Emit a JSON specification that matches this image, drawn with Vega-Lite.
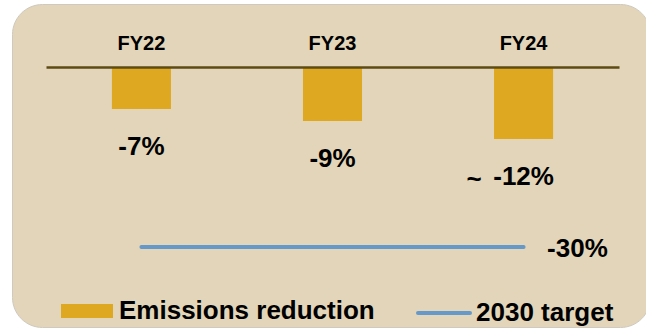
{
  "$schema": "https://vega.github.io/schema/vega-lite/v6.json",
  "width": 638,
  "height": 323,
  "autosize": {"type": "none"},
  "padding": {"left": 12, "top": 4, "right": -4, "bottom": 4},
  "background": "#ffffff",
  "config": {
    "font": "Liberation Sans",
    "locale": {
      "number": {"decimal": ".", "thousands": ",", "grouping": [3], "currency": ["$", ""], "minus": "-"}
    },
    "view": {"fill": "#e2d5b9", "stroke": "#cfc9bf", "strokeWidth": 1, "cornerRadius": 30}
  },
  "data": {
    "values": [
      {"year": "FY22", "reduction": -0.07, "target": -0.30, "qualifier": ""},
      {"year": "FY23", "reduction": -0.09, "target": -0.30, "qualifier": ""},
      {"year": "FY24", "reduction": -0.12, "target": -0.30, "qualifier": "~"}
    ]
  },
  "encoding": {
    "x": {
      "field": "year",
      "type": "nominal",
      "sort": null,
      "scale": {"range": [34, 607], "paddingInner": 0.691, "paddingOuter": 0.345},
      "axis": {
        "orient": "top",
        "title": null,
        "ticks": false,
        "grid": false,
        "labelAngle": 0,
        "labelFont": "Liberation Sans",
        "labelFontWeight": "bold",
        "labelFontSize": 20,
        "labelColor": "#000000",
        "labelBaseline": "alphabetic",
        "labelPadding": 17.5,
        "domainColor": "#5e4b14",
        "domainWidth": 2.5,
        "offset": -63,
        "zindex": 1
      }
    }
  },
  "layer": [
    {
      "mark": {"type": "bar"},
      "encoding": {
        "y": {
          "field": "reduction",
          "type": "quantitative",
          "scale": {"domain": [-0.3, 0], "range": [243, 63], "nice": false},
          "axis": null
        },
        "fill": {
          "datum": "Emissions reduction",
          "type": "nominal",
          "scale": {"range": ["#dea920"]},
          "legend": {
            "orient": "none",
            "legendX": 49,
            "legendY": 281,
            "title": null,
            "padding": 0,
            "symbolType": "M-1,-0.27H1V0.27H-1Z",
            "symbolSize": 2704,
            "symbolStrokeWidth": 0,
            "symbolOpacity": 1,
            "labelFont": "Liberation Sans",
            "labelFontSize": 26,
            "labelFontWeight": "bold",
            "labelColor": "#000000",
            "labelOffset": 6,
            "labelLimit": 400
          }
        }
      }
    },
    {
      "mark": {"type": "text", "font": "Liberation Sans", "fontSize": 26, "fontWeight": "bold", "color": "#000000", "baseline": "alphabetic", "dy": 46},
      "encoding": {
        "y": {"field": "reduction", "type": "quantitative"},
        "text": {"field": "reduction", "type": "quantitative", "format": ".0%"}
      }
    },
    {
      "mark": {"type": "text", "font": "Liberation Sans", "fontSize": 26, "fontWeight": "bold", "color": "#000000", "baseline": "alphabetic", "align": "right", "dx": -42, "dy": 49},
      "encoding": {
        "y": {"field": "reduction", "type": "quantitative"},
        "text": {"field": "qualifier", "type": "nominal"}
      }
    },
    {
      "mark": {"type": "line", "strokeWidth": 4, "strokeCap": "round"},
      "encoding": {
        "y": {"field": "target", "type": "quantitative"},
        "stroke": {
          "datum": "2030 target",
          "type": "nominal",
          "scale": {"range": ["#6699c9"]},
          "legend": {
            "orient": "none",
            "legendX": 404,
            "legendY": 281,
            "title": null,
            "padding": 0,
            "symbolType": "M-1,0H1",
            "symbolSize": 2704,
            "symbolStrokeWidth": 4,
            "symbolOpacity": 1,
            "labelFont": "Liberation Sans",
            "labelFontSize": 26,
            "labelFontWeight": "bold",
            "labelColor": "#000000",
            "labelOffset": 4,
            "labelLimit": 400,
            "encode": {"symbols": {"update": {"strokeCap": {"value": "round"}}}}
          }
        }
      }
    },
    {
      "transform": [{"filter": "datum.year === 'FY24'"}],
      "mark": {"type": "text", "font": "Liberation Sans", "fontSize": 26, "fontWeight": "bold", "color": "#000000", "align": "left", "baseline": "alphabetic", "dx": 23.5, "dy": 10},
      "encoding": {
        "y": {"field": "target", "type": "quantitative"},
        "text": {"field": "target", "type": "quantitative", "format": ".0%"}
      }
    }
  ]
}
